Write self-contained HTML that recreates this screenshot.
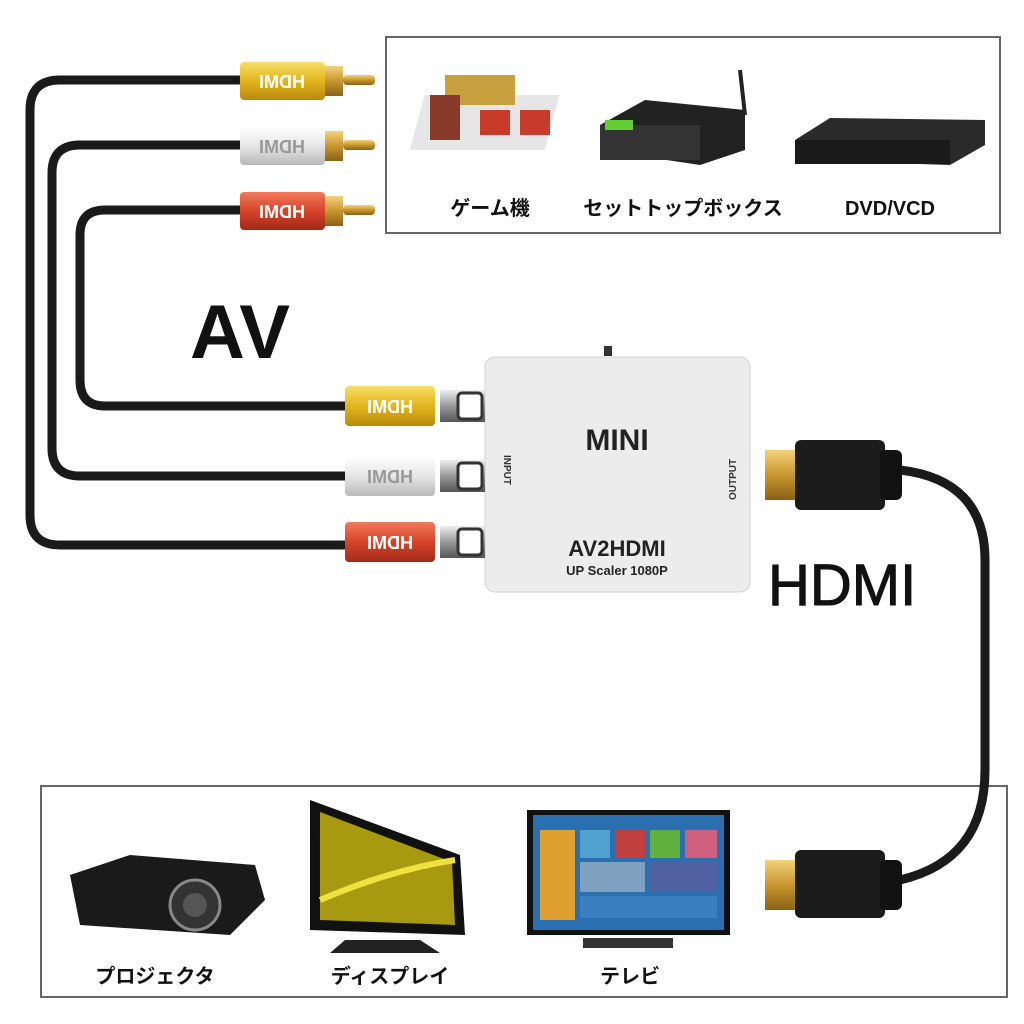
<!DOCTYPE html>
<html><head><meta charset="utf-8"><style>
body{margin:0;background:#fff;}
svg{display:block}
text{font-family:"Liberation Sans","Noto Sans CJK JP",sans-serif;}
</style></head><body>
<svg width="1024" height="1024" viewBox="0 0 1024 1024">
<defs>
<linearGradient id="gold" x1="0" y1="0" x2="0" y2="1"><stop offset="0" stop-color="#f3d27a"/><stop offset="0.5" stop-color="#c9962e"/><stop offset="1" stop-color="#8a6216"/></linearGradient>
<linearGradient id="yel" x1="0" y1="0" x2="0" y2="1"><stop offset="0" stop-color="#f7df6a"/><stop offset="0.5" stop-color="#e3b51c"/><stop offset="1" stop-color="#b88a0c"/></linearGradient>
<linearGradient id="wht" x1="0" y1="0" x2="0" y2="1"><stop offset="0" stop-color="#ffffff"/><stop offset="0.5" stop-color="#e6e6e6"/><stop offset="1" stop-color="#b8b8b8"/></linearGradient>
<linearGradient id="red" x1="0" y1="0" x2="0" y2="1"><stop offset="0" stop-color="#f07a5a"/><stop offset="0.5" stop-color="#d8432a"/><stop offset="1" stop-color="#a02a18"/></linearGradient>
<linearGradient id="met" x1="0" y1="0" x2="0" y2="1"><stop offset="0" stop-color="#eee"/><stop offset="0.5" stop-color="#999"/><stop offset="1" stop-color="#555"/></linearGradient>
</defs>
<rect x="386" y="37" width="614" height="196" fill="#fff" stroke="#666" stroke-width="2"/>
<rect x="41" y="786" width="966" height="211" fill="#fff" stroke="#666" stroke-width="2"/>
<g fill="none" stroke="#1a1a1a" stroke-width="9" stroke-linecap="round">
<path d="M240 80 H60 Q30 80 30 110 V515 Q30 545 60 545 H345"/>
<path d="M240 145 H80 Q52 145 52 173 V448 Q52 476 80 476 H345"/>
<path d="M240 210 H105 Q80 210 80 235 V380 Q80 406 105 406 H345"/>
<path d="M900 470 Q985 480 985 560 V770 Q985 860 900 880"/>
</g>
<g>
<rect x="240" y="62" width="85" height="38" rx="4" fill="url(#yel)"/>
<rect x="325" y="66" width="18" height="30" fill="url(#gold)"/>
<rect x="343" y="75" width="32" height="10" rx="4" fill="url(#gold)"/>
<text x="282" y="88" font-size="18" font-weight="bold" fill="#fff" text-anchor="middle" transform="scale(-1,1) translate(-564,0)">HDMI</text>
<rect x="240" y="127" width="85" height="38" rx="4" fill="url(#wht)"/>
<rect x="325" y="131" width="18" height="30" fill="url(#gold)"/>
<rect x="343" y="140" width="32" height="10" rx="4" fill="url(#gold)"/>
<text x="282" y="153" font-size="18" font-weight="bold" fill="#999" text-anchor="middle" transform="scale(-1,1) translate(-564,0)">HDMI</text>
<rect x="240" y="192" width="85" height="38" rx="4" fill="url(#red)"/>
<rect x="325" y="196" width="18" height="30" fill="url(#gold)"/>
<rect x="343" y="205" width="32" height="10" rx="4" fill="url(#gold)"/>
<text x="282" y="218" font-size="18" font-weight="bold" fill="#fff" text-anchor="middle" transform="scale(-1,1) translate(-564,0)">HDMI</text>
</g>
<rect x="485" y="357" width="265" height="235" rx="10" fill="#ececec" stroke="#d4d4d4"/>
<text x="617" y="450" font-size="30" font-weight="bold" fill="#222" text-anchor="middle">MINI</text>
<text x="617" y="556" font-size="22" font-weight="bold" fill="#222" text-anchor="middle">AV2HDMI</text>
<text x="617" y="575" font-size="13" font-weight="bold" fill="#222" text-anchor="middle">UP Scaler 1080P</text>
<text x="0" y="0" font-size="10" font-weight="bold" fill="#333" transform="translate(504,455) rotate(90)">INPUT</text>
<text x="0" y="0" font-size="10" font-weight="bold" fill="#333" transform="translate(736,500) rotate(-90)">OUTPUT</text>
<rect x="604" y="346" width="8" height="10" fill="#333"/>
<g>
<rect x="440" y="390" width="45" height="32" fill="url(#met)"/><rect x="458" y="393" width="24" height="26" rx="4" fill="#fff" stroke="#333" stroke-width="3"/>
<rect x="345" y="386" width="90" height="40" rx="4" fill="url(#yel)"/>
<text x="390" y="413" font-size="18" font-weight="bold" fill="#fff" text-anchor="middle" transform="scale(-1,1) translate(-780,0)">HDMI</text>
<rect x="440" y="460" width="45" height="32" fill="url(#met)"/><rect x="458" y="463" width="24" height="26" rx="4" fill="#fff" stroke="#333" stroke-width="3"/>
<rect x="345" y="456" width="90" height="40" rx="4" fill="url(#wht)"/>
<text x="390" y="483" font-size="18" font-weight="bold" fill="#999" text-anchor="middle" transform="scale(-1,1) translate(-780,0)">HDMI</text>
<rect x="440" y="526" width="45" height="32" fill="url(#met)"/><rect x="458" y="529" width="24" height="26" rx="4" fill="#fff" stroke="#333" stroke-width="3"/>
<rect x="345" y="522" width="90" height="40" rx="4" fill="url(#red)"/>
<text x="390" y="549" font-size="18" font-weight="bold" fill="#fff" text-anchor="middle" transform="scale(-1,1) translate(-780,0)">HDMI</text>
</g>
<rect x="765" y="450" width="32" height="50" fill="url(#gold)"/>
<rect x="795" y="440" width="90" height="70" rx="6" fill="#1c1c1c"/>
<rect x="880" y="450" width="22" height="50" rx="6" fill="#111"/>
<rect x="765" y="860" width="32" height="50" fill="url(#gold)"/>
<rect x="795" y="850" width="90" height="68" rx="6" fill="#1c1c1c"/>
<rect x="880" y="860" width="22" height="50" rx="6" fill="#111"/>
<text x="190" y="358" font-size="76" font-weight="bold" fill="#111">AV</text>
<text x="768" y="605" font-size="58" fill="#111" stroke="#111" stroke-width="1">HDMI</text>
<g>
<rect x="420" y="95" width="135" height="55" fill="#e6e6e6" transform="skewX(-15) translate(30,0)"/>
<rect x="445" y="75" width="70" height="30" fill="#c8a040"/>
<rect x="480" y="110" width="30" height="25" fill="#c83a2a"/>
<rect x="520" y="110" width="30" height="25" fill="#c83a2a"/>
<rect x="430" y="95" width="30" height="45" fill="#8a3a2a"/>
<line x1="740" y1="70" x2="745" y2="115" stroke="#222" stroke-width="4"/>
<polygon points="600,125 645,100 745,110 745,150 700,165 600,150" fill="#222"/>
<rect x="600" y="125" width="100" height="35" fill="#333"/>
<rect x="605" y="120" width="28" height="10" fill="#6c3"/>
<polygon points="795,140 830,118 985,120 985,145 950,165 795,160" fill="#2a2a2a"/>
<rect x="795" y="140" width="155" height="24" fill="#1a1a1a"/>
</g>
<text x="490" y="215" font-size="20" font-weight="bold" fill="#111" text-anchor="middle">ゲーム機</text>
<text x="683" y="215" font-size="20" font-weight="bold" fill="#111" text-anchor="middle">セットトップボックス</text>
<text x="890" y="215" font-size="20" font-weight="bold" fill="#111" text-anchor="middle">DVD/VCD</text>
<g>
<polygon points="70,875 130,855 255,865 265,900 230,935 80,925" fill="#1a1a1a"/>
<circle cx="195" cy="905" r="25" fill="#333" stroke="#888" stroke-width="3"/>
<circle cx="195" cy="905" r="12" fill="#555"/>
<polygon points="310,800 460,855 465,935 310,930" fill="#111"/>
<polygon points="320,812 452,862 455,925 320,920" fill="#a89a10"/>
<path d="M320 900 Q390 870 455 860" stroke="#f0e040" stroke-width="6" fill="none"/>
<polygon points="345,940 420,940 440,953 330,953" fill="#222"/>
<rect x="527" y="810" width="203" height="125" fill="#111"/>
<rect x="533" y="815" width="191" height="115" fill="#2a6fb0"/>
<rect x="540" y="830" width="35" height="90" fill="#e0a030"/>
<rect x="580" y="830" width="30" height="28" fill="#50a0d0"/>
<rect x="615" y="830" width="30" height="28" fill="#c04040"/>
<rect x="650" y="830" width="30" height="28" fill="#60b040"/>
<rect x="685" y="830" width="32" height="28" fill="#d06080"/>
<rect x="580" y="862" width="65" height="30" fill="#80a0c0"/>
<rect x="650" y="862" width="67" height="30" fill="#5060a0"/>
<rect x="580" y="896" width="137" height="22" fill="#3a80c0"/>
<rect x="583" y="938" width="90" height="10" fill="#333"/>
</g>
<text x="155" y="983" font-size="20" font-weight="bold" fill="#111" text-anchor="middle">プロジェクタ</text>
<text x="390" y="983" font-size="20" font-weight="bold" fill="#111" text-anchor="middle">ディスプレイ</text>
<text x="630" y="983" font-size="20" font-weight="bold" fill="#111" text-anchor="middle">テレビ</text>
</svg>
</body></html>
